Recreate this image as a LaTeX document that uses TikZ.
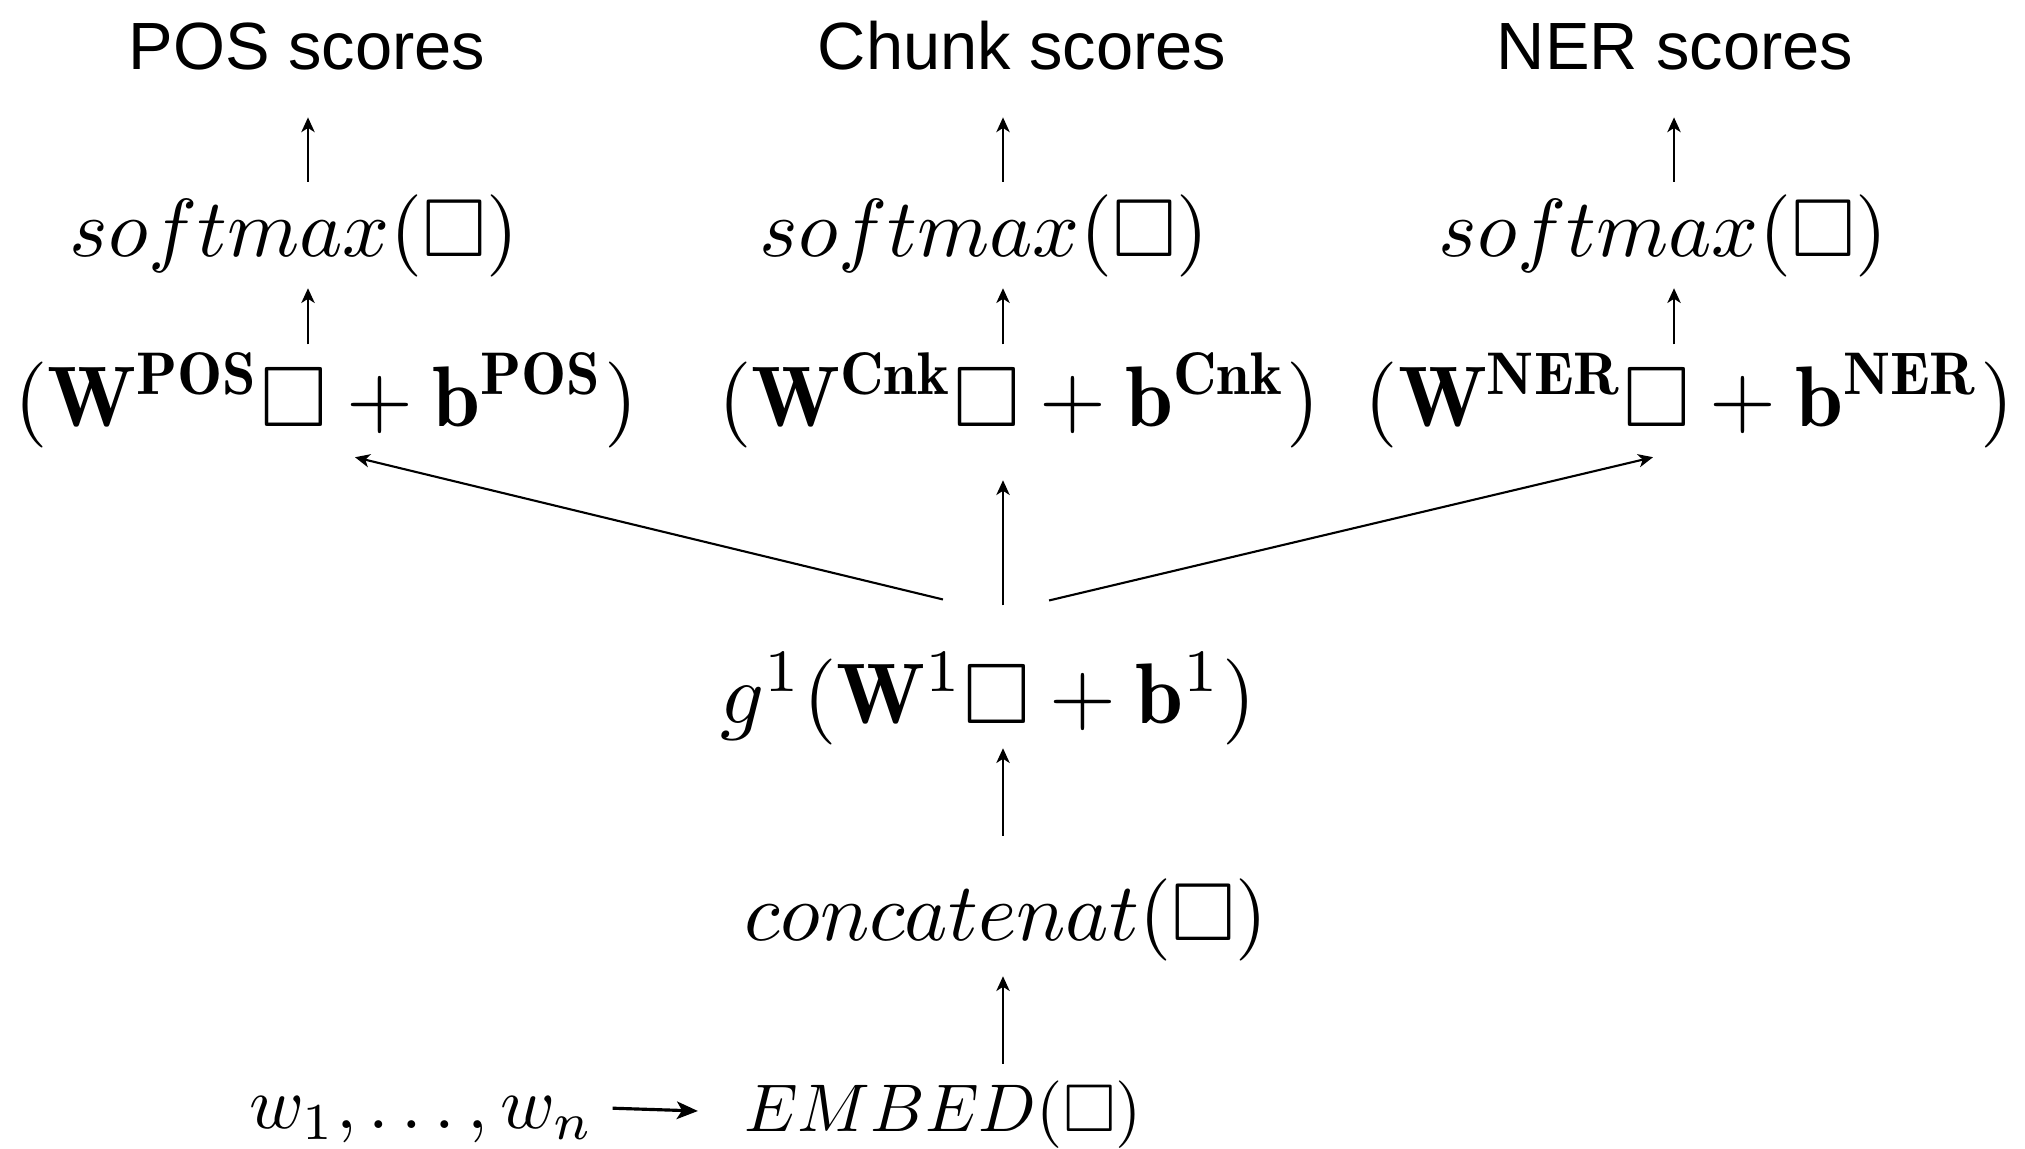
\documentclass[tikz,border=0pt]{standalone}
\usepackage{amsmath}
\usepackage{amssymb}
\usepackage{fontspec}
\newfontfamily\scoresfont{Liberation Sans}
\usetikzlibrary{arrows.meta}

\begin{document}
\begin{tikzpicture}[x=0.01cm,y=-0.01cm,
    score/.style={anchor=base,inner sep=0pt,font=\scoresfont\fontsize{19}{22}\selectfont},
    layer/.style={anchor=base,inner sep=0pt,scale=2.34,text height=8pt,text depth=2.5pt},
    wide/.style={layer,scale=1.045},
    arrow/.style={-{Stealth[length=4.2pt,width=3.8pt,inset=1.2pt]},line width=0.6pt},
    maps/.style={-{Stealth[length=6pt,width=5pt,inset=1.5pt]},line width=0.9pt}
]
    \useasboundingbox (0,0) rectangle (2025,1148);
    \coordinate (colP) at (308,0);
    \coordinate (colC) at (1003,0);
    \coordinate (colN) at (1674,0);

    \node[score] (posT) at (307,69) {POS scores};
    \node[score] (cnkT) at (1022,69) {Chunk scores};
    \node[score] (nerT) at (1675,69) {NER scores};

    \node[layer] (smP) at (294,256) {$softmax(\square)$};
    \node[layer] (smC) at (984,256) {$softmax(\square)$};
    \node[layer] (smN) at (1663,256) {$softmax(\square)$};

    \node[wide] (linP) at (326,426) {$(\mathbf{W}^{\mathbf{POS}}\square+\mathbf{b}^{\mathbf{POS}})$};
    \node[wide] (linC) at (1019,426) {$(\mathbf{W}^{\mathbf{Cnk}}\square+\mathbf{b}^{\mathbf{Cnk}})$};
    \node[wide] (linN) at (1689,426) {$(\mathbf{W}^{\mathbf{NER}}\square+\mathbf{b}^{\mathbf{NER}})$};

    \node[wide] (hid) at (988,723) {$g^1(\mathbf{W}^1\square+\mathbf{b}^1)$};
    \node[layer] (cat) at (1006,940) {$concatenat(\square)$};
    \node[layer,scale=0.82] (emb) at (943,1131) {$EMBED(\square)$};
    \node[layer,scale=0.9] (words) at (422,1128) {$w_1,\ldots,w_n$};

    % scores
    \draw[arrow,shorten <=0.07cm,shorten >=0.47cm] (smP.north -| colP) -- (posT.south -| colP);
    \draw[arrow,shorten <=0.07cm,shorten >=0.47cm] (smC.north -| colC) -- (cnkT.south -| colC);
    \draw[arrow,shorten <=0.07cm,shorten >=0.47cm] (smN.north -| colN) -- (nerT.south -| colN);
    % softmax
    \draw[arrow,shorten <=0.11cm,shorten >=0.1cm] (linP.north -| colP) -- (smP.south -| colP);
    \draw[arrow,shorten <=0.11cm,shorten >=0.1cm] (linC.north -| colC) -- (smC.south -| colC);
    \draw[arrow,shorten <=0.11cm,shorten >=0.1cm] (linN.north -| colN) -- (smN.south -| colN);
    % shared hidden layer
    \draw[arrow] ([xshift=-0.45cm,yshift=0.53cm]hid.north) -- ([xshift=0.29cm,yshift=-0.08cm]linP.south);
    \draw[arrow,shorten <=0.47cm,shorten >=0.31cm] (hid.north -| colC) -- (linC.south -| colC);
    \draw[arrow] ([xshift=0.61cm,yshift=0.52cm]hid.north) -- ([xshift=-0.36cm,yshift=-0.08cm]linN.south);
    % lookup
    \draw[arrow,shorten <=0.37cm,shorten >=0.02cm] (cat.north -| colC) -- (hid.south -| colC);
    \draw[arrow,shorten >=0.14cm] ([yshift=0.12cm]emb.north -| colC) -- (cat.south -| colC);
    \draw[maps,shorten <=0.17cm,shorten >=0.45cm] (words.east) -- (emb.west);
\end{tikzpicture}
\end{document}
